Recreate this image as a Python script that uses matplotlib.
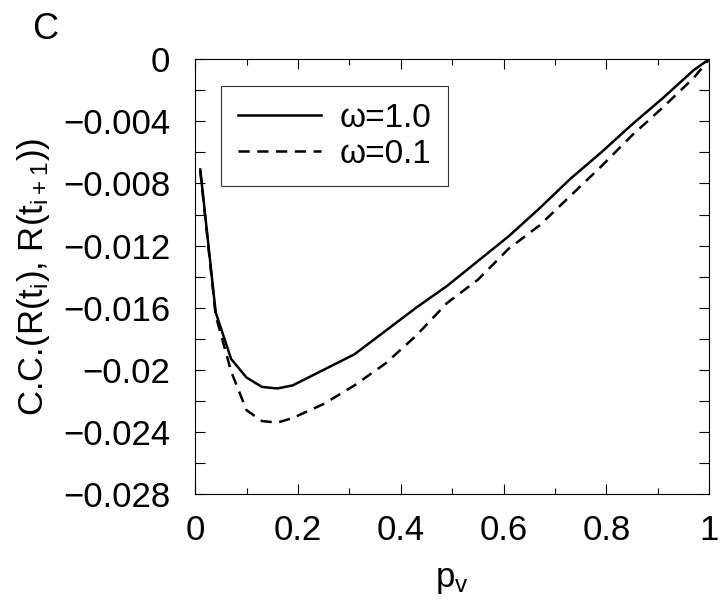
import matplotlib
matplotlib.use("Agg")
import matplotlib.pyplot as plt
from matplotlib.ticker import MultipleLocator

plt.rcParams["font.family"] = ["Liberation Sans", "DejaVu Sans"]
plt.rcParams["mathtext.fontset"] = "custom"
plt.rcParams["mathtext.rm"] = "Liberation Sans"
plt.rcParams["mathtext.default"] = "regular"

# valores
p_v = [0.01, 0.04, 0.07, 0.10, 0.13, 0.16, 0.19, 0.25, 0.31, 0.37, 0.43,
       0.49, 0.55, 0.61, 0.67, 0.73, 0.79, 0.85, 0.91, 0.97, 1.0]
cc_w10 = [-0.0071, -0.0163, -0.0193, -0.0205, -0.0211, -0.0212, -0.0210,
          -0.0200, -0.0190, -0.0175, -0.0160, -0.0146, -0.0130, -0.0114,
          -0.0096, -0.0077, -0.0060, -0.0042, -0.0025, -0.0007, 0.0]
cc_w01 = [-0.0072, -0.0165, -0.0201, -0.0226, -0.0233, -0.0234, -0.0231,
          -0.0222, -0.0210, -0.0196, -0.0178, -0.0157, -0.0142, -0.0122,
          -0.0107, -0.0088, -0.0069, -0.0049, -0.0031, -0.0012, 0.0]
labels = ["\u03c9=1.0", "\u03c9=0.1"]
x_ticks = [0, 0.2, 0.4, 0.6, 0.8, 1.0]
x_ticklabels = ["0", "0.2", "0.4", "0.6", "0.8", "1"]
y_ticks = [0, -0.004, -0.008, -0.012, -0.016, -0.02, -0.024, -0.028]
y_ticklabels = ["0", "\u22120.004", "\u22120.008", "\u22120.012", "\u22120.016",
                "\u22120.02", "\u22120.024", "\u22120.028"]

fig = plt.figure(figsize=(7.2, 6.04), dpi=100)
ax = fig.add_axes([0.271, 0.182, 0.714, 0.720])

ax.plot(p_v, cc_w10, color="black", lw=1.8, label=labels[0])
ax.plot(p_v, cc_w01, color="black", lw=1.8, ls=(0, (4.5, 3)), label=labels[1])

ax.set_xlim(0, 1)
ax.set_ylim(-0.028, 0)
ax.set_xticks(x_ticks)
ax.set_xticklabels(x_ticklabels)
ax.xaxis.set_minor_locator(MultipleLocator(0.1))
ax.set_yticks(y_ticks)
ax.set_yticklabels(y_ticklabels)
ax.yaxis.set_minor_locator(MultipleLocator(0.002))

ax.tick_params(axis="both", which="both", direction="in", top=True, right=True,
               width=0.8, labelsize=25)
ax.tick_params(axis="x", which="major", length=7, pad=14)
ax.tick_params(axis="x", which="minor", length=4)
ax.tick_params(axis="y", which="both", length=7, pad=18)
for s in ax.spines.values():
    s.set_linewidth(0.8)

ax.set_xlabel("p$_v$", fontsize=25, labelpad=12)
ax.set_ylabel("C.C.(R(t$_i$), R(t$_{i+1}$))", fontsize=25, labelpad=8)

leg = ax.legend(loc="upper left", bbox_to_anchor=(0.051, 0.938), borderaxespad=0,
                fontsize=24, frameon=True, fancybox=False, handlelength=2.5,
                handletextpad=0.55, borderpad=0.5, labelspacing=0.15)
leg.get_frame().set_edgecolor("black")
leg.get_frame().set_linewidth(0.8)

fig.text(0.045, 0.935, "C", fontsize=26)

fig.savefig("out.png", dpi=100)
